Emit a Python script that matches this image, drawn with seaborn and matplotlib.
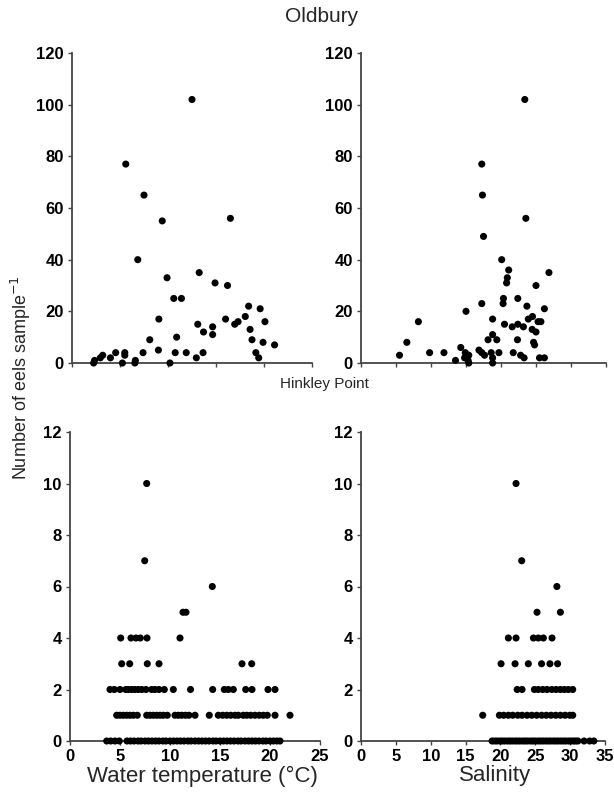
import matplotlib
matplotlib.use('Agg')
import matplotlib.pyplot as plt
import pandas as pd
import seaborn as sns

sns.set_theme(style='ticks')
plt.rcParams['font.family'] = ['Liberation Sans', 'DejaVu Sans']

# ---------------- Oldbury ----------------
old_temp_x = [12.5, 5.6, 7.5, 9.4, 16.5, 6.85, 9.9, 13.25, 10.6, 11.4, 14.9, 16.2,
              9.05, 18.4, 19.6, 18.05, 16.0, 16.95, 17.3, 20.1, 13.1, 14.65, 13.7,
              14.65, 18.55, 10.9, 8.1, 18.75, 19.9, 21.1, 9.0, 7.4, 10.75, 11.9,
              13.65, 19.15, 19.45, 12.95, 5.5, 5.5, 4.55, 4.0, 3.2, 2.95, 2.35,
              2.25, 5.25, 6.6, 6.55, 10.2]
old_temp_y = [102, 77, 65, 55, 56, 40, 33, 35, 25, 25, 31, 30,
              17, 22, 21, 18, 17, 15, 16, 16, 15, 14, 12,
              11, 13, 10, 9, 9, 8, 7, 5, 4, 4, 4,
              4, 4, 2, 2, 4, 3, 4, 2, 3, 2, 1,
              0, 0, 1, 0, 0]

old_sal_x = [23.4, 17.25, 17.35, 17.5, 23.55, 20.1, 21.1, 26.85, 20.9, 20.8, 25.0,
             20.35, 22.4, 20.3, 17.25, 23.7, 26.2, 15.0, 24.5, 23.9, 18.8, 25.3,
             25.7, 8.2, 20.5, 22.4, 21.6, 23.2, 24.45, 25.0, 18.8, 18.15, 19.4,
             22.35, 24.65, 24.8, 14.25, 6.55, 5.5, 9.8, 11.85, 13.5, 16.85, 17.25,
             17.65, 18.6, 19.7, 21.75, 22.8, 23.3, 14.9, 15.4, 14.8, 15.3, 18.8,
             18.8, 25.5, 26.2, 15.4]
old_sal_y = [102, 77, 65, 49, 56, 40, 36, 35, 33, 31, 30,
             25, 25, 23, 23, 22, 21, 20, 18, 17, 17, 16,
             16, 16, 15, 15, 14, 14, 13, 12, 11, 9, 9,
             9, 8, 7, 6, 8, 3, 4, 4, 1, 5, 4,
             3, 4, 4, 4, 3, 2, 4, 3, 2, 1, 2,
             0, 2, 2, 0]

# ---------------- Hinkley Point (water temperature, per count) ----------------
hk_temp_10 = [7.67]
hk_temp_7 = [7.47]
hk_temp_6 = [14.23]
hk_temp_5 = [11.3, 11.6]
hk_temp_4 = [5.07, 6.1, 6.6, 7.03, 7.7, 11.0]
hk_temp_3 = [5.17, 5.97, 7.73, 8.9, 17.2, 18.17]
hk_temp_2 = [4.0, 4.43, 5.0, 5.57, 5.83, 6.17, 6.5, 6.83, 7.17, 7.6, 8.17, 8.5,
             8.9, 9.43, 10.33, 12.05, 14.27, 15.43, 15.83, 16.33, 17.57, 18.2,
             19.8, 20.5]
hk_temp_1 = [4.67, 5.0, 5.33, 5.67, 6.0, 6.33, 6.73, 7.67, 8.0, 8.33, 8.67, 9.0,
             9.33, 9.73, 10.5, 10.83, 11.17, 11.55, 11.9, 12.5, 13.93, 14.83,
             15.27, 15.67, 16.07, 16.5, 16.83, 17.33, 17.67, 18.07, 18.5, 18.93,
             19.33, 19.73, 20.5, 22.0]
hk_temp_0 = [3.67, 4.07, 4.5, 4.93, 5.7, 6.05, 6.4, 6.8, 7.1, 7.5, 7.85, 8.2,
             8.55, 8.9, 9.3, 9.6, 10.0, 10.35, 10.7, 11.05, 11.4, 11.8, 12.1,
             12.5, 12.85, 13.2, 13.55, 13.9, 14.3, 14.6, 15.0, 15.35, 15.7,
             16.05, 16.4, 16.8, 17.1, 17.5, 17.85, 18.2, 18.55, 18.9, 19.3,
             19.6, 20.0, 20.35, 20.7, 21.0]

# ---------------- Hinkley Point (salinity, per count) ----------------
hk_sal_10 = [22.24]
hk_sal_7 = [23.05]
hk_sal_6 = [28.1]
hk_sal_5 = [25.25, 28.6]
hk_sal_4 = [21.14, 22.24, 24.73, 25.44, 26.16, 27.4]
hk_sal_3 = [20.09, 22.1, 24.0, 25.9, 27.1, 28.2]
hk_sal_2 = [22.4, 23.1, 24.87, 25.44, 26.07, 26.69, 27.36, 27.98, 28.6, 29.17,
            29.75, 30.37]
hk_sal_1 = [17.46, 19.85, 20.47, 21.14, 21.76, 22.48, 23.1, 23.82, 24.49, 25.2,
            25.92, 26.58, 27.26, 27.93, 28.6, 29.27, 29.94, 30.37]
hk_sal_0 = [18.8, 19.15, 19.5, 19.9, 20.25, 20.6, 21.0, 21.35, 21.7, 22.1,
            22.45, 22.8, 23.2, 23.55, 23.9, 24.3, 24.65, 25.0, 25.4, 25.75,
            26.1, 26.5, 26.85, 27.2, 27.6, 27.95, 28.3, 28.7, 29.05, 29.4,
            29.8, 30.15, 30.5, 30.8, 31.1, 32.0, 32.8, 33.4]


def rows_to_xy(rows):
    xs, ys = [], []
    for count, vals in rows:
        xs.extend(vals)
        ys.extend([count] * len(vals))
    return xs, ys


hk_temp_x, hk_temp_y = rows_to_xy([(10, hk_temp_10), (7, hk_temp_7), (6, hk_temp_6),
                                   (5, hk_temp_5), (4, hk_temp_4), (3, hk_temp_3),
                                   (2, hk_temp_2), (1, hk_temp_1), (0, hk_temp_0)])
hk_sal_x, hk_sal_y = rows_to_xy([(10, hk_sal_10), (7, hk_sal_7), (6, hk_sal_6),
                                 (5, hk_sal_5), (4, hk_sal_4), (3, hk_sal_3),
                                 (2, hk_sal_2), (1, hk_sal_1), (0, hk_sal_0)])

temp_ticks = [0, 5, 10, 15, 20, 25]
sal_ticks = [0, 5, 10, 15, 20, 25, 30, 35]
old_yticks = [0, 20, 40, 60, 80, 100, 120]
hk_yticks = [0, 2, 4, 6, 8, 10, 12]

W, H = 614, 798
fig = plt.figure(figsize=(W / 100, H / 100), dpi=100)
fig.patch.set_facecolor('white')


def make_ax(x0, x1, y_top, y_bot):
    return fig.add_axes([x0 / W, 1 - y_bot / H, (x1 - x0) / W, (y_bot - y_top) / H])


ax_ot = make_ax(72, 312, 53, 363)
ax_os = make_ax(361, 606, 53, 363)
ax_ht = make_ax(70, 320, 432, 741)
ax_hs = make_ax(361, 605, 432, 741)

panels = [
    (ax_ot, old_temp_x, old_temp_y, temp_ticks, old_yticks, False),
    (ax_os, old_sal_x, old_sal_y, sal_ticks, old_yticks, False),
    (ax_ht, hk_temp_x, hk_temp_y, temp_ticks, hk_yticks, True),
    (ax_hs, hk_sal_x, hk_sal_y, sal_ticks, hk_yticks, True),
]

spine_col = '#444444'
for ax, xs, ys, xt, yt, show_x in panels:
    df = pd.DataFrame({'x': xs, 'y': ys})
    sns.scatterplot(data=df, x='x', y='y', ax=ax, color='black', s=26,
                    edgecolor='none', linewidth=0, clip_on=False, zorder=3)
    ax.set_xlim(xt[0], xt[-1])
    ax.set_ylim(yt[0], yt[-1])
    ax.set_xticks(xt)
    ax.set_yticks(yt)
    ax.set_facecolor('white')
    for s in ['top', 'right']:
        ax.spines[s].set_visible(False)
    for s in ['left', 'bottom']:
        ax.spines[s].set_color(spine_col)
        ax.spines[s].set_linewidth(1.3)
    ax.tick_params(direction='out', length=3, width=1, colors=spine_col,
                   labelcolor='black', labelsize=12, pad=3)
    for lab in ax.get_yticklabels():
        lab.set_fontweight('bold')
    if show_x:
        for lab in ax.get_xticklabels():
            lab.set_fontweight('bold')
    else:
        ax.set_xticklabels([])
    ax.set_xlabel('')
    ax.set_ylabel('')

fig.text(202 / W, 1 - 776 / H, 'Water temperature (°C)', ha='center', va='center',
         fontsize=16)
fig.text(495 / W, 1 - 776 / H, 'Salinity', ha='center', va='center', fontsize=16)

fig.text(322 / W, 1 - 17 / H, 'Oldbury', ha='center', va='center', fontsize=15)
fig.text(324 / W, 1 - 384 / H, 'Hinkley Point', ha='center', va='center', fontsize=11)
fig.text(21 / W, 1 - 378 / H, 'Number of eels sample$^{-1}$', rotation=90,
         ha='center', va='center', fontsize=13)

fig.savefig('out.png', dpi=100, facecolor='white')
